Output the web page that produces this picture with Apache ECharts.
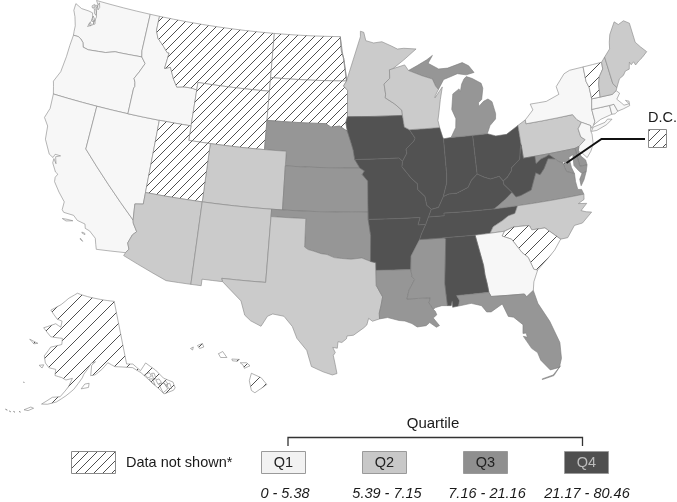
<!DOCTYPE html>
<html><head><meta charset="utf-8">
<script src="https://cdn.jsdelivr.net/npm/echarts@6/dist/echarts.min.js"></script>
<style>html,body{margin:0;padding:0;background:#fff}#c{width:677px;height:502px}</style>
</head><body><div id="c"></div>
<script>
// ---- chart data ----
const quartileLabels = ['Q1','Q2','Q3','Q4'];
const quartileRanges = ['0 - 5.38','5.39 - 7.15','7.16 - 21.16','21.17 - 80.46'];
const q1States = ['WA','OR','CA','NV','ID','NY','NJ','CT','RI','MA','GA'];
const q2States = ['MN','WI','PA','ME','NH','CO','AZ','NM','TX','NC'];
const q3States = ['NE','KS','OK','MI','VA','MD','DE','LA','MS','FL'];
const q4States = ['IA','MO','AR','IL','IN','OH','KY','TN','AL','WV'];
const notShownFine = ['MT','ND','SD','WY','UT'];
const notShownWide = ['SC','VT','AK','HI','DC'];

// ---- shared borders (lon,lat) ----
const col="-124,46.25 -123.5,46.25 -123.2,46.15 -122.9,45.95 -122.75,45.65 -122.2,45.57 -121.2,45.65 -120.5,45.7 -119.6,45.92 -119,45.93 -116.92,46";
const snake="-116.92,46 -116.46,45.6 -116.85,44.95 -117.2,44.45 -117.03,44.2 -116.95,43.9 -117.03,43.8 -117.03,42";
const idmt="-116.05,48 -115.75,47.5 -115,47 -114.55,46.65 -114.35,46.65 -114.5,45.55 -113.95,45.7 -113.45,44.95 -113,44.45 -112.3,44.55 -111.5,44.55 -111.05,44.48";
const rr="-97.23,49 -97.1,48 -96.85,47.5 -96.6,46.3 -96.56,45.94";
const sdmn="-96.56,45.94 -96.85,45.6 -96.45,45.3 -96.45,43.5";
const neia="-96.45,42.5 -96.1,41.7 -95.9,41.2 -95.77,40.58";
const ksmo="-95.31,40 -94.9,39.8 -95.1,39.55 -94.61,39.11 -94.62,37";
const colorado="-114.63,35 -114.57,34.8 -114.15,34.27 -114.45,34 -114.7,33.4 -114.5,33 -114.72,32.72";
const mis1="-91.22,43.5 -91.1,42.7 -90.64,42.5 -90.15,41.9 -90.3,41.7 -91.05,41.2 -91,40.9 -91.42,40.38";
const mis2="-91.42,40.38 -91.5,40 -90.72,39.2 -90.2,38.8 -90.2,38.4 -89.6,37.9 -89.5,37.3 -89.13,37";
const mis4b="-89.7,36 -90.1,35.4 -90.3,35";
const mis5="-90.3,35 -90.6,34.6 -91.1,33.9 -91.17,33";
const mis6="-91.17,33 -91.1,32.5 -90.9,32.3 -91.4,31.6 -91.6,31";
const boot="-89.7,36 -90.37,36 -90.15,36.5";
const ohio2="-88,37.8 -87.5,37.95 -86.8,37.95 -86.3,38.1 -85.75,38.27 -85.4,38.72 -84.82,39.1";
const red="-100,34.56 -99.7,34.4 -99.2,34.3 -98.6,34.15 -98.1,34.1 -97.5,33.9 -96.9,33.85 -96.1,33.8 -95.2,33.88 -94.48,33.64";
const sabine="-94.04,31.99 -93.55,31.2 -93.7,30.6 -93.85,30.1 -93.84,29.7";
const txla="-94.04,33.02 -94.04,31.99";
const okar="-94.62,36.5 -94.43,35.4 -94.48,33.64";
const savannah="-83.35,34.7 -82.6,34.4 -81.9,33.4 -81.45,33 -81.15,32.15 -80.85,32.05";
const chatt="-85.6,34.98 -85.18,32.87 -85.15,32.2 -85.05,31.55 -85,31";
const vawv="-77.75,39.3 -78.35,39.4 -78.87,38.77 -79.3,38.42 -79.65,38.6 -80.3,37.5 -81.25,37.25 -81.7,37.2 -81.97,37.54";
const potomac="-76.3,38.05 -76.95,38.3 -77.05,38.6 -77.04,38.85 -77.5,39.1 -77.75,39.3";
const bigSandy="-81.97,37.54 -82.6,38.17 -82.6,38.4";
const kyva="-81.97,37.54 -82.7,37.1 -83.68,36.6";
const tnnc="-81.68,36.59 -82,36.1 -82.6,36 -83.1,35.75 -84,35.4 -84.32,34.99";
const ncsc="-83.11,35 -82.3,35.2 -81.05,35.15 -80.93,35.1 -80.8,34.82 -79.68,34.8 -78.55,33.86";
const nypa="-75.35,42 -75.05,41.6 -74.7,41.36";
const vtny="-73.35,45.01 -73.4,44 -73.25,43.55 -73.27,42.75";
const ctRiver="-71.5,45.01 -71.55,44.55 -72.05,44.1 -72.3,43.6 -72.46,42.73";
const stCroix="-92.29,46.66 -92.29,46.08 -92.87,45.7 -92.75,45 -92.8,44.75 -91.9,44.3 -91.25,43.85 -91.22,43.5";
const wimi="-90.4,46.55 -89.1,46.13 -88.1,45.85 -87.85,45.35 -87.6,45.1";

const rev=s=>s.split(' ').reverse().join(' ');

// ---- state outlines (lon,lat) ----
const outlines={
WA:["-117.03,49 -122.76,49 -122.5,48.75 -122.5,48.3 -122.3,47.9 -122.45,47.3 -122.9,47.1 -122.6,47.7 -122.8,48.1 -123.2,48.15 -124,48.17 -124.7,48.38 -124.7,47.9 -124.4,47.5 -124.1,46.9 -124.05,46.5 "+col+" -117.04,46.42",
    "-123.05,48.55 -122.85,48.7 -122.8,48.45 -122.95,48.42","-122.75,48.42 -122.45,48.3 -122.4,48 -122.6,48.1","-122.7,48.7 -122.55,48.6 -122.6,48.45 -122.72,48.5","-122.65,47.9 -122.45,47.75 -122.5,47.5 -122.7,47.6","-122.8,47.4 -122.6,47.35 -122.65,47.2 -122.85,47.25","-122.35,47.7 -122.25,47.4 -122.4,47.35 -122.45,47.6","-122.4,48.9 -122.25,48.6 -122.35,48.4 -122.5,48.7"],
OR:[rev(col)+" -124.05,45.5 -124.05,44.7 -124.15,43.6 -124.55,42.84 -124.4,42.5 -124.2,42 -120,42 "+rev(snake)],
CA:["-124.2,42 -120,42 -120,39 "+colorado+" -117.12,32.53 -117.25,32.85 -117.4,33.25 -118,33.65 -118.4,33.75 -118.5,34.03 -119.2,34.15 -119.6,34.42 -120.47,34.45 -120.65,34.6 -120.65,35.15 -121.3,35.7 -121.9,36.3 -121.95,36.6 -121.8,36.85 -122.05,36.95 -122.5,37.5 -122.5,37.8 -122.2,37.5 -122.4,37.95 -122,38.1 -122.5,38.1 -122.6,37.85 -123,38 -123.7,38.9 -123.85,39.8 -124.35,40.3 -124.1,41",
    "-120.45,34.02 -120.05,34.05 -119.55,34.05 -119.55,33.98 -120.1,33.92","-118.6,33.45 -118.35,33.42 -118.3,33.33 -118.55,33.38","-118.6,33.02 -118.35,32.85 -118.4,32.8 -118.6,32.95"],
NV:["-120,42 -114.04,42 -114.04,36.2 -114.75,36.1 -114.63,35 -120,39"],
ID:["-117.03,49 -116.05,49 "+idmt+" -111.05,42 -114.04,42 "+rev(snake)+" -117.04,46.42"],
MT:["-116.05,49 -104.05,49 -104.05,45 -111.05,45 "+rev(idmt)],
WY:["-111.05,45 -104.05,45 -104.05,41 -111.05,41"],
ND:[rr+" -104.05,45.94 -104.05,49"],
SD:["-104.05,45.94 "+sdmn+" -96.6,43.1 -96.45,42.5 -97.2,42.85 -98,42.77 -98.5,43 -104.05,43"],
NE:["-104.05,43 -98.5,43 -98,42.77 -97.2,42.85 "+neia+" -95.31,40 -102.05,40 -102.05,41 -104.05,41"],
CO:["-109.05,41 -102.05,41 -102.05,37 -109.05,37"],
UT:["-111.05,42 -111.05,41 -109.05,41 -109.05,37 -114.04,37 -114.04,42"],
AZ:["-114.04,37 -109.05,37 -109.05,31.33 -111.07,31.33 -114.82,32.5 "+rev(colorado)+" -114.75,36.1 -114.04,36.2"],
NM:["-109.05,37 -103,37 -103,36.5 -103.04,32 -106.62,32 -106.53,31.78 -108.21,31.78 -108.21,31.33 -109.05,31.33"],
KS:["-102.05,40 "+ksmo+" -102.05,37"],
OK:["-103,37 -94.62,37 "+okar+" "+rev(red)+" -100,36.5 -103,36.5"],
TX:["-103,36.5 -100,36.5 "+red+" -94.04,33.55 -94.04,33.02 "+sabine+" -94.4,29.55 -94.7,29.75 -94.85,29.3 -95.1,29.1 -95.9,28.6 -96.4,28.55 -96.45,28.35 -96.8,28.1 -97.1,28.15 -97.15,27.7 -97.5,27.75 -97.3,27.4 -97.45,27.2 -97.3,26.6 -97.15,25.95 -97.5,25.85 -98.2,26.05 -99.1,26.4 -99.5,27.5 -100.3,28.3 -100.7,29.1 -101.4,29.77 -102.3,29.88 -102.7,29.7 -103.15,28.98 -104,29.3 -104.5,29.65 -104.9,30.6 -106,31.4 -106.53,31.78 -106.62,32 -103.04,32"],
MN:[rev(rr)+" "+sdmn+" "+rev(stCroix)+" -92,46.7 -90.8,47.3 -89.5,48 -90.75,48.1 -91.4,48.07 -92,48.3 -92.95,48.62 -93.8,48.55 -94.6,48.72 -94.8,49.3 -95.15,49.38 -95.15,49"],
IA:["-96.45,43.5 "+mis1+" -91.73,40.61 -95.77,40.58 "+rev(neia)+" -96.6,43.1"],
MO:["-95.77,40.58 -91.73,40.61 "+mis2+" -89.42,36.5 "+boot+" -94.62,36.5 -94.62,37 "+rev(ksmo)],
AR:["-94.62,36.5 -90.15,36.5 -90.37,36 "+mis4b+" "+mis5+" -94.04,33.02 -94.04,33.55 -94.48,33.64 -94.43,35.4"],
LA:[txla+" "+sabine+" -93.2,29.78 -92.3,29.55 -91.85,29.5 -91.3,29.3 -90.9,29.05 -90.2,29.1 -89.9,29.3 -89.4,28.95 -89.15,29.05 -89.6,29.6 -89.3,29.8 -89.4,30.05 -89.55,30.2 -89.85,30.65 -89.73,31 -91.6,31 -91.4,31.6 -90.9,32.3 -91.1,32.5 -91.17,33"],
MS:["-90.3,35 -88.2,35 -88.1,34.9 -88.47,31.9 -88.4,30.37 -88.85,30.4 -89.35,30.3 -89.55,30.2 -89.85,30.65 -89.73,31 "+rev(mis6)+" "+rev(mis5)],
TN:[rev(mis4b)+" -89.42,36.5 -88.07,36.5 -88.07,36.68 -83.68,36.6 "+tnnc+" -85.6,34.98 -88.2,35"],
KY:["-89.42,36.5 -89.13,37 -88.5,37.1 "+ohio2+" -84.3,38.85 -83.7,38.65 -82.9,38.75 -82.6,38.4 -82.6,38.17 "+kyva+" -88.07,36.68 -88.07,36.5"],
IL:["-91.42,40.38 -91,40.9 -91.05,41.2 -90.3,41.7 -90.15,41.9 -90.64,42.5 -87.8,42.5 -87.6,41.85 -87.53,41.71 -87.53,39.35 -87.6,38.7 -88,37.8 -88.5,37.1 -89.13,37 -89.5,37.3 -89.6,37.9 -90.2,38.4 -90.2,38.8 -90.72,39.2 -91.5,40"],
IN:["-87.53,41.71 -86.82,41.76 -84.81,41.74 -84.82,39.1 -85.4,38.72 -85.75,38.27 -86.3,38.1 -86.8,37.95 -87.5,37.95 -88,37.8 -87.6,38.7 -87.53,39.35"],
OH:["-84.81,41.74 -83.45,41.73 -82.7,41.5 -81.7,41.5 -80.52,41.98 -80.52,40.64 -80.65,40.4 -80.85,39.7 -81.7,39.2 -81.75,39 -82.2,38.6 -82.6,38.4 -82.9,38.75 -83.7,38.65 -84.3,38.85 -84.82,39.1"],
MI:["-86.82,41.76 -86.3,42.4 -86.2,43 -86.5,43.65 -86.25,44.7 -85.6,45 -85.5,44.8 -85.3,45.3 -85,45.65 -84.75,45.78 -84.2,45.6 -83.4,45.2 -83.3,44.85 -83.55,44.1 -83.9,43.9 -83.9,43.65 -83.4,43.95 -82.95,44.07 -82.6,43.85 -82.42,43 -82.5,42.65 -83.1,42.25 -83.45,41.73 -84.81,41.74",
    "-90.4,46.55 -89.5,46.85 -88.5,47.2 -87.9,47.47 -88.4,46.95 -87.4,46.5 -86.5,46.5 -85,46.77 -84.4,46.5 -83.95,46 -84.75,45.9 -85.6,46.05 -86.5,45.85 -87,45.75 -87.6,45.1 -87.85,45.35 -88.1,45.85 -89.1,46.13"],
WI:["-92.29,46.66 -91.2,46.87 -90.75,46.95 "+wimi+" -87.95,44.7 -88,44.55 -87.2,45.25 -87.5,44.4 -87.75,43.5 -87.9,43 -87.8,42.5 -90.64,42.5 -91.1,42.7 -91.22,43.5 -91.25,43.85 -91.9,44.3 -92.8,44.75 -92.75,45 -92.87,45.7 -92.29,46.08"],
PA:["-80.52,41.98 -79.76,42.27 -79.76,42 "+nypa+" -75.13,40.97 -75.05,40.4 -74.72,40.15 -75.4,39.8 -75.79,39.72 -79.48,39.72 -80.52,39.72 -80.52,40.64"],
NY:["-79.76,42.27 -78.9,42.85 -79.05,43.27 -77.5,43.25 -76.2,43.55 -76.3,44.1 -75.3,44.85 -74.7,45 "+vtny+" -73.5,42.05 -73.48,41.21 -73.65,41 -73.9,40.8 -73.95,41 -74.7,41.36 -75.05,41.6 -75.35,42 -79.76,42",
    "-74,40.6 -73.75,40.85 -72.6,40.98 -72.3,41.15 -71.9,41.07 -72.5,40.8 -73.5,40.58"],
NJ:["-74.7,41.36 -73.95,41 -74.05,40.65 -74,40.4 -74.1,39.75 -74.45,39.3 -74.9,38.93 -75.2,39.25 -75.55,39.5 -75.4,39.8 -74.72,40.15 -75.05,40.4 -75.13,40.97"],
DE:["-75.79,39.72 -75.4,39.8 -75.55,39.5 -75.4,39.1 -75.08,38.8 -75.05,38.45 -75.7,38.46"],
MD:["-79.48,39.72 -75.79,39.72 -75.7,38.46 -75.05,38.45 -75.25,38.03 -75.65,37.95 -75.9,38.2 -76.2,38.6 -76.1,39.35 -76.5,39.2 -76.45,38.5 "+potomac+" -78.2,39.65 -78.5,39.55 -79,39.45 -79.48,39.2"],
VA:["-83.68,36.6 -81.68,36.59 -75.87,36.55 -75.98,36.9 -76.3,36.95 -76.35,37.5 "+potomac+" -78.35,39.4 -78.87,38.77 -79.3,38.42 -79.65,38.6 -80.3,37.5 -81.25,37.25 -81.7,37.2 -81.97,37.54 -82.7,37.1",
    "-75.65,37.95 -75.25,38.03 -75.6,37.5 -75.95,37.15 -75.95,37.6"],
WV:["-80.52,40.64 -80.52,39.72 -79.48,39.72 -79.48,39.2 -79,39.45 -78.5,39.55 -78.2,39.65 "+vawv+" "+bigSandy+" -82.2,38.6 -81.75,39 -81.7,39.2 -80.85,39.7 -80.65,40.4"],
NC:["-84.32,34.99 -84,35.4 -83.1,35.75 -82.6,36 -82,36.1 -81.68,36.59 -75.87,36.55 -75.95,36.2 -76.5,36 -75.8,35.9 -76.4,35.5 -76,35.35 -75.55,35.25 -76.5,34.65 -77.2,34.6 -77.95,33.87 "+rev(ncsc)],
SC:[ncsc+" -79.2,33.2 -79.9,32.7 "+rev(savannah)],
GA:["-85.6,34.98 -84.32,34.99 -83.11,35 "+savannah+" -81.3,31.3 -81.45,30.72 -82.05,30.36 -82.2,30.57 -84.86,30.7 -85,31 -85.05,31.55 -85.15,32.2 -85.18,32.87"],
AL:["-88.2,35 "+chatt+" -87.6,31 -87.4,30.65 -87.52,30.28 -88,30.23 -88,30.65 -88.1,30.35 -88.4,30.37 -88.47,31.9 -88.1,34.9"],
FL:["-87.6,31 -85,31 -84.86,30.7 -82.2,30.57 -82.05,30.36 -81.45,30.72 -81.25,29.8 -80.55,28.45 -80.05,26.9 -80.13,25.8 -80.4,25.2 -81.1,25.13 -81.7,25.9 -81.85,26.45 -82.25,26.8 -82.75,27.7 -82.45,27.6 -82.5,27.9 -82.75,27.9 -82.65,28.5 -83.3,29.1 -83.7,29.2 -84.05,30.1 -85,29.65 -85.35,29.68 -85.7,30.15 -86.5,30.38 -87.52,30.28 -87.4,30.65",
    "-81.8,24.55 -80.9,24.7 -80.3,25.3 -80.35,25.3 -80.95,24.75 -81.8,24.6"],
CT:["-73.5,42.05 -71.8,42.02 -71.8,41.4 -72.9,41.25 -73.65,41 -73.48,41.21"],
RI:["-71.8,42.02 -71.38,42.02 -71.2,41.5 -71.5,41.37 -71.8,41.4"],
MA:["-73.27,42.75 -72.46,42.73 -71.3,42.7 -70.85,42.88 -70.6,42.65 -71,42.3 -70.65,41.95 -70.5,41.78 -70,41.78 -70.25,42.07 -69.95,41.95 -70,41.65 -70.65,41.55 -71.2,41.5 -71.38,42.02 -71.8,42.02 -73.5,42.05"],
VT:["-73.35,45.01 "+ctRiver+" -73.27,42.75 -73.25,43.55 -73.4,44"],
NH:["-71.5,45.01 -71.08,45.3 -70.98,43.4 -70.7,43.07 -70.85,42.88 -71.3,42.7 "+rev(ctRiver)],
ME:["-71.08,45.3 -70.4,45.75 -70.25,46.2 -70,46.7 -69.23,47.46 -68.9,47.2 -68.3,47.35 -67.8,47.07 -67.8,45.7 -67.45,45.3 -67,44.85 -67.6,44.55 -68,44.4 -68.4,44.2 -68.5,44.45 -68.8,44.3 -68.9,44.5 -69.1,44.05 -69.5,44 -69.8,43.75 -70.25,43.6 -70.7,43.07 -70.98,43.4"],
DC:["-77.12,38.93 -77.04,39 -76.91,38.89 -77.04,38.79"],
AK:["-141,69.65 -141,60.3 -139.2,60.1 -137.5,58.9 -135.5,59.8 -133.4,58.4 -132,56.9 -130,55.9 -130,55 -130.6,54.75 -133.2,54.7 -133.7,55.3 -135,56.5 -136.5,57.8 -137.5,58.6 -139.5,59.6 -142.5,60 -144.5,60.2 -146.5,60.9 -148.5,60 -150.5,59.3 -151.8,59.2 -151.4,60.7 -150.2,61.2 -151.5,61 -152.6,60.2 -153.8,59.4 -154.2,58.9 -156.5,57.2 -158.5,56.2 -160.8,55.2 -163,54.7 -164.5,54.6 -162,55.8 -160,56 -158,57.5 -157,58.8 -158.8,58.5 -160,58.8 -162,59 -162,59.9 -164,60 -165.3,60.6 -166,61.6 -165,62.5 -164.5,63 -161,63.6 -161,64.5 -162.8,64.5 -165,64.5 -168,65.6 -164,66.5 -162,66.1 -161.8,67 -163.7,67.2 -166.7,68.35 -163,69.4 -160,70.5 -156.5,71.3 -152,70.8 -148,70.4",
    "-154.5,57.3 -152.5,57.5 -152.3,58.1 -153.5,58","-167,60.1 -165.7,60.3 -166,59.8","-171.7,63.5 -168.8,63.2 -170,63","-168.5,53.3 -167,53.9 -166.3,53.8 -167.5,53.3","-170.3,57.2 -170,57.2 -170.1,57.1","-169.6,52.9 -169.2,52.85 -169.4,52.75","-170.9,52.7 -170.5,52.65 -170.7,52.55","-171.9,52.6 -171.5,52.55 -171.7,52.45","-172.9,52.7 -172.4,52.65 -172.6,52.55",
    "-136.6,58.2 -135.2,58.3 -135,57.7 -136,57.6","-135.8,57.4 -134.9,57.3 -134.7,56.3 -135.4,56.8","-134.7,58.1 -134,58 -134,57.2 -134.6,57.1","-134.1,57 -133.2,57 -132.9,56.4 -133.9,56.3","-133.7,56.3 -132.2,56.2 -131.9,55.2 -133.3,54.9","-132.4,56.3 -131.8,56.5 -131.4,55.9 -132,55.6","-131.8,55.9 -130.9,55.9 -130.9,55.1 -131.6,55.2"],
HI:["-155.9,20.25 -155.2,19.95 -154.8,19.5 -155.65,18.95 -155.9,19.1 -156.05,19.75","-156.7,20.95 -156.25,20.95 -156,20.75 -156.4,20.58 -156.5,20.8","-157.3,21.2 -156.75,21.17 -156.9,21.05 -157.25,21.08","-158.25,21.55 -157.95,21.7 -157.65,21.3 -158.1,21.3","-159.75,22.1 -159.4,22.23 -159.3,22 -159.6,21.9","-160.25,21.9 -160.05,22 -160.1,21.8"]
};

// ---- projection: Albers for the lower 48 plus insets for AK / HI ----
const R=Math.PI/180;
const conic=(p1,p2,lon0)=>{const n=(Math.sin(p1*R)+Math.sin(p2*R))/2,C=Math.cos(p1*R)**2+2*n*Math.sin(p1*R);
  return (lon,lat)=>{const r=Math.sqrt(C-2*n*Math.sin(lat*R))/n,t=n*(lon-lon0)*R;return [r*Math.sin(t),-r*Math.cos(t)];};};
const lower=conic(29.5,45.5,-96),alaska=conic(55,65,-154);
function project(p){const lon=p[0],lat=p[1];
  if(lat>51&&lon<-129.5){const a=alaska(lon,lat);return [83+392*a[0],144-392*a[1]];}
  if(lat<23&&lon<-150)return [257+14*(lon+155.5),383-15*(lat-19.6)];
  const a=lower(lon,lat);return [352.2+835*a[0],-883.4-835*a[1]];
}

function ring(str){const pts=str.trim().split(/\s+/).map(s=>s.split(',').map(Number));pts.push(pts[0]);
  const out=[];for(let i=0;i<pts.length-1;i++){const a=pts[i],b=pts[i+1];
    const steps=Math.max(1,Math.ceil(Math.abs(a[0]-b[0])/1.5));
    for(let k=0;k<steps;k++)out.push([a[0]+(b[0]-a[0])*k/steps,a[1]+(b[1]-a[1])*k/steps]);}
  out.push(out[0]);return out;}
const features=Object.keys(outlines).map(name=>({type:'Feature',properties:{name},
  geometry:{type:'MultiPolygon',coordinates:outlines[name].map(s=>[ring(s)])}}));
echarts.registerMap('usa',{type:'FeatureCollection',features});
let x0=1e9,y0=1e9,x1=-1e9,y1=-1e9;
features.forEach(f=>f.geometry.coordinates.forEach(pg=>pg[0].forEach(c=>{const q=project(c);x0=Math.min(x0,q[0]);x1=Math.max(x1,q[0]);y0=Math.min(y0,q[1]);y1=Math.max(y1,q[1]);})));

// ---- styles ----
const quartileColors=['#f7f7f7','#cbcbcb','#969696','#525252'];
const borderColors=['#858585','#858585','#7c7c7c','#6c6c6c'];
const legendFill=['#f2f2f2','#c8c8c8','#8f8f8f','#4f4f4f'];
const legendText=['#222','#222','#222','#bdbdbd'];
const font='"Liberation Sans", Arial, sans-serif';
function hatch(n,lw){const c=document.createElement('canvas');c.width=c.height=n;const g=c.getContext('2d');
  g.fillStyle='#fff';g.fillRect(0,0,n,n);g.strokeStyle='#222';g.lineWidth=lw;g.beginPath();
  g.moveTo(-1,1);g.lineTo(1,-1);g.moveTo(0,n);g.lineTo(n,0);g.moveTo(n-1,n+1);g.lineTo(n+1,n-1);g.stroke();
  return {image:c,repeat:'repeat'};}
const fine=hatch(9,.8),wide=hatch(13,.8);

const seriesData=[];
[q1States,q2States,q3States,q4States].forEach((list,i)=>list.forEach(name=>seriesData.push({name,value:i+1,itemStyle:{areaColor:quartileColors[i],borderColor:borderColors[i]}})));
notShownFine.forEach(name=>seriesData.push({name,itemStyle:{areaColor:fine}}));
notShownWide.forEach(name=>seriesData.push({name,itemStyle:{areaColor:wide}}));

const legendX=[261,362,463,564],rangeX=[285,387,487,587];
const graphic=[];
const text=(x,y,t,size,extra)=>graphic.push({type:'text',x,y,z:100,silent:true,style:Object.assign({text:t,fontFamily:font,fontSize:size,fill:'#1a1a1a',align:'center',verticalAlign:'middle'},extra||{})});
quartileLabels.forEach((q,i)=>{
  graphic.push({type:'rect',z:100,silent:true,shape:{x:legendX[i]+.5,y:451.5,width:44,height:22},style:{fill:legendFill[i],stroke:'#9a9a9a',lineWidth:1}});
  text(legendX[i]+22.5,462.5,q,14.5,{fill:legendText[i]});
  text(rangeX[i],494,quartileRanges[i],14.5,{fontStyle:'italic'});
});
graphic.push({type:'rect',z:100,silent:true,shape:{x:71.5,y:451.5,width:44,height:22},style:{fill:hatch(9,.8),stroke:'#8a8a8a',lineWidth:1}});
text(126,463,'Data not shown*',14.5,{align:'left'});
text(433,424,'Quartile',15);
graphic.push({type:'polyline',z:100,silent:true,shape:{points:[[288,446],[288,437.5],[582.5,437.5],[582.5,446]]},style:{fill:'none',stroke:'#333',lineWidth:1.3}});
text(648,118,'D.C.',14.5,{align:'left'});
graphic.push({type:'rect',z:100,silent:true,shape:{x:648.5,y:129.5,width:18,height:18},style:{fill:hatch(10,.8),stroke:'#8a8a8a',lineWidth:1}});
graphic.push({type:'polyline',z:100,silent:true,shape:{points:[[566.5,163],[601.5,139],[645,139]]},style:{fill:'none',stroke:'#111',lineWidth:2}});

const chart=echarts.init(document.getElementById('c'),null,{renderer:'canvas'});
chart.setOption({
  animation:false,backgroundColor:'#fff',
  series:[{type:'map',map:'usa',silent:true,roam:false,selectedMode:false,
    projection:{project,unproject:p=>p},
    left:x0,top:y0,width:x1-x0,height:y1-y0,
    label:{show:false},emphasis:{disabled:true},
    itemStyle:{borderColor:'#808080',borderWidth:.6,areaColor:'#fff'},
    data:seriesData}],
  graphic
});
</script></body></html>
